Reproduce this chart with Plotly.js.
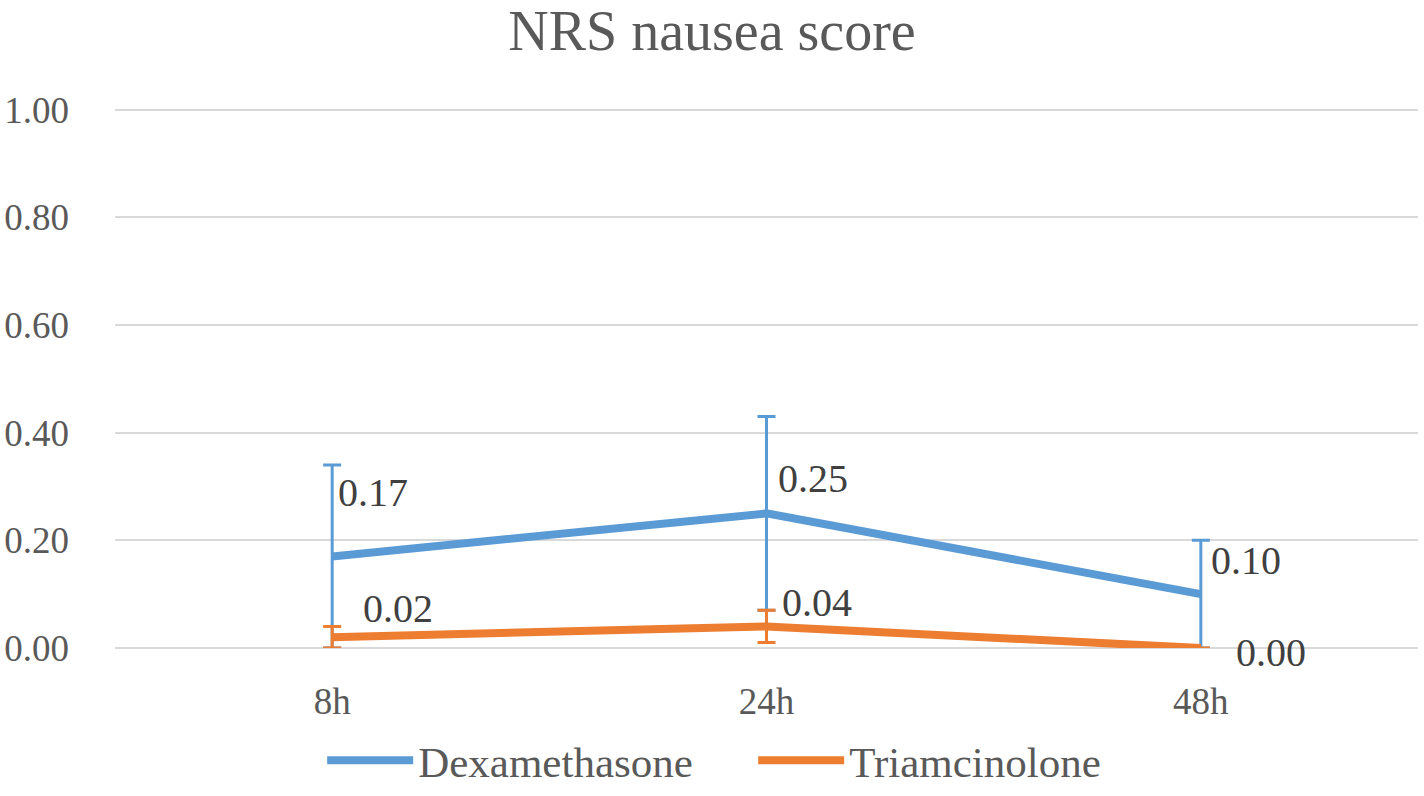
<!DOCTYPE html>
<html>
<head>
<meta charset="utf-8">
<script src="https://cdn.plot.ly/plotly-3.0.1.min.js"></script>
<style>html,body{margin:0;padding:0;background:#fff;}#chart{width:1424px;height:796px;}</style>
</head>
<body>
<div id="chart"></div>
<script>
const categories = ["8h", "24h", "48h"];
const dexaValues = [0.17, 0.25, 0.10];
const dexaErrors = [0.17, 0.18, 0.10];
const triaValues = [0.02, 0.04, 0.00];
const triaErrors = [0.02, 0.03, 0.00];
const yTickVals = [0, 0.2, 0.4, 0.6, 0.8, 1.0];

const blue = "#5B9BD5", orange = "#ED7D31", grey = "#595959";
const font = "Liberation Serif";

const traces = [
  {
    x: categories, y: dexaValues, name: "Dexamethasone", type: "scatter", mode: "lines",
    line: {color: blue, width: 8},
    error_y: {type: "data", array: dexaErrors, visible: true, color: blue, thickness: 3, width: 9}
  },
  {
    x: categories, y: triaValues, name: "Triamcinolone", type: "scatter", mode: "lines",
    line: {color: orange, width: 8},
    error_y: {type: "data", array: triaErrors, visible: true, color: orange, thickness: 3, width: 9}
  }
];

const dexaOffsets = [[41, -64], [46, -35], [45, -34]];
const triaOffsets = [[66, -29], [50, -24], [70, 4]];
const annotations = [];
categories.forEach((c, i) => {
  annotations.push({x: c, y: dexaValues[i], xref: "x", yref: "y", text: dexaValues[i].toFixed(2),
    showarrow: false, xshift: dexaOffsets[i][0], yshift: -dexaOffsets[i][1],
    font: {family: font, size: 40, color: "#404040"}});
  annotations.push({x: c, y: triaValues[i], xref: "x", yref: "y", text: triaValues[i].toFixed(2),
    showarrow: false, xshift: triaOffsets[i][0], yshift: -triaOffsets[i][1],
    font: {family: font, size: 40, color: "#404040"}});
});

const layout = {
  width: 1424, height: 796,
  paper_bgcolor: "#fff", plot_bgcolor: "#fff",
  font: {family: font, color: grey},
  title: {text: "NRS nausea score", x: 0.5, xanchor: "center", y: 0.962, yanchor: "middle",
    font: {family: font, size: 56, color: grey}},
  margin: {l: 115, r: 6, t: 108, b: 148, autoexpand: false},
  xaxis: {
    type: "category", range: [-0.5, 2.5], showgrid: false, zeroline: false,
    showline: false, ticks: "", tickfont: {family: font, size: 37, color: grey},
    ticklabelstandoff: 28
  },
  yaxis: {
    range: [0, 1.003], tickvals: yTickVals, tickformat: ".2f", showgrid: true,
    gridcolor: "#D9D9D9", gridwidth: 2, zeroline: true, zerolinecolor: "#D9D9D9", zerolinewidth: 2,
    showline: false, ticks: "",
    tickfont: {family: font, size: 37, color: grey}, ticklabelstandoff: 45
  },
  showlegend: true,
  legend: {orientation: "h", x: 0.159, xanchor: "left", y: -0.272, yanchor: "bottom",
    font: {family: font, size: 43, color: grey}, itemwidth: 86, tracegroupgap: 0,
    entrywidth: 330, entrywidthmode: "pixels"},
  annotations: annotations
};

Plotly.newPlot("chart", traces, layout, {displayModeBar: false, staticPlot: true});
</script>
</body>
</html>
